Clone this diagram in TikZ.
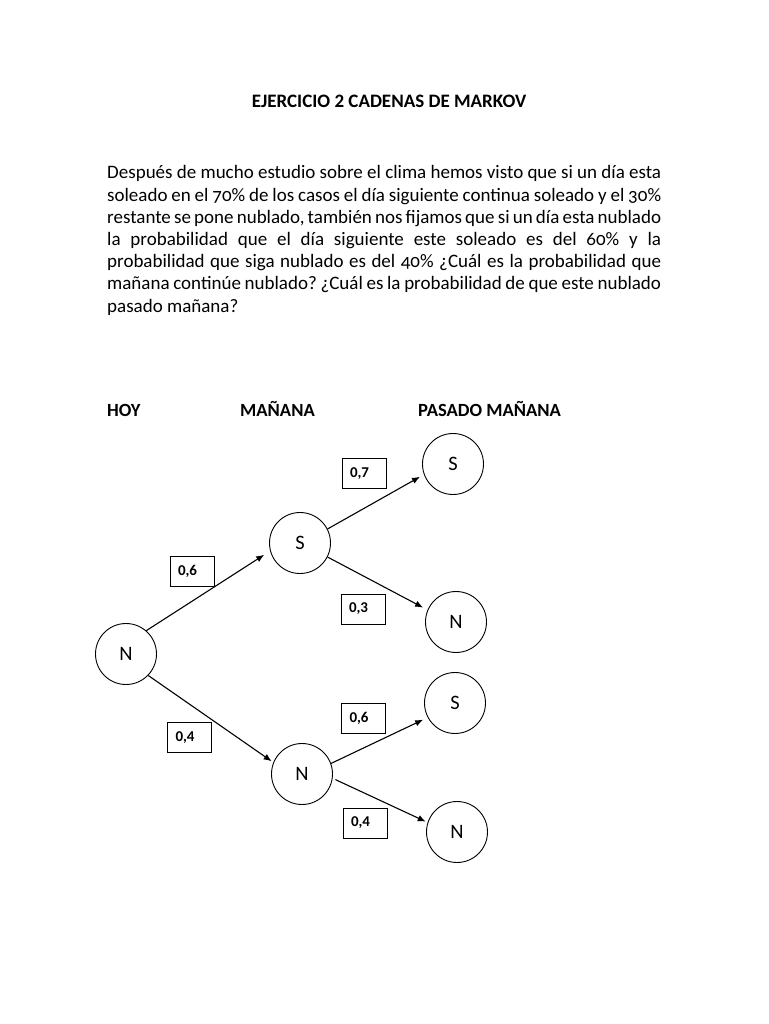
\documentclass[tikz,border=0pt]{standalone}
\usepackage{fontspec}
\setmainfont{Carlito}
\newfontfamily\parafont{Carlito}[Numbers=OldStyle]
\usetikzlibrary{arrows.meta}
\begin{document}
\begin{tikzpicture}[x=1pt,y=-1pt,
  state/.style={circle,draw,line width=0.9pt,minimum size=61pt,inner sep=0pt,font=\fontsize{20.5}{24}\selectfont},
  arr/.style={line width=1.1pt,-{Latex[length=8pt,width=6.5pt]}},
  prob/.style={draw,line width=0.9pt,minimum width=44pt,minimum height=30pt,inner xsep=8pt,inner ysep=0pt,text width=28pt,align=left,font=\fontsize{15}{17}\selectfont\bfseries},
  head/.style={anchor=base west,inner sep=0pt,font=\fontsize{18.6}{22}\selectfont\bfseries}]
\useasboundingbox[fill=white] (0,0) rectangle (768,1024);
% title
\node[anchor=base,inner sep=0pt,font=\fontsize{19}{22}\selectfont\bfseries] (title) at (389,108) {EJERCICIO 2 CADENAS DE MARKOV};
% paragraph
\node[anchor=base west,inner sep=0pt,text width=554pt,align=justify,font=\parafont\fontsize{19}{22.2}\selectfont] (para) at (107,179)
{\frenchspacing\hbadness=10000\hfuzz=20pt Después de mucho estudio sobre el clima hemos visto que si un día esta\linebreak
soleado en el 70\% de los casos el día siguiente continua soleado y el 30\%\linebreak
restante se pone nublado, también nos fijamos que si un día esta nublado\linebreak
la probabilidad que el día siguiente este soleado es del 60\% y la\linebreak
probabilidad que siga nublado es del 40\% ¿Cuál es la probabilidad que\linebreak
mañana continúe nublado? ¿Cuál es la probabilidad de que este nublado\linebreak
pasado mañana?};
% column heads
\node[head] (hoy) at (107,416) {HOY};
\node[head] (man) at (240,416) {MAÑANA};
\node[head] (pas) at (418,416) {PASADO MAÑANA};
% states
\node[state] (R) at (126,654) {N};
\node[state] (S1) at (300,543) {S};
\node[state] (St) at (453,464) {S};
\node[state] (Nu) at (456,622) {N};
\node[state] (Nl) at (302,774) {N};
\node[state] (Sl) at (455,703) {S};
\node[state] (Nb) at (457,832) {N};
% arrows
\draw[arr,shorten >=7pt] (R.49) -- (S1.195);
\draw[arr,shorten >=4.5pt] (S1.27) -- (St.200);
\draw[arr,shorten >=5pt] (S1.-27) -- (Nu.157);
\draw[arr,shorten >=2pt] (R.-44) -- (Nl.158);
\draw[arr,shorten >=5pt] (Nl.20) -- (Sl.208);
\draw[arr,shorten <=3pt,shorten >=2pt] (Nl.-8) -- (Nb.162);
% probability boxes
\node[prob] (p07) at (364,473.5) {0,7};
\node[prob] (p06a) at (192,571) {0,6};
\node[prob] (p03) at (363,609) {0,3};
\node[prob] (p04a) at (189.5,737.5) {0,4};
\node[prob] (p06b) at (363.5,718) {0,6};
\node[prob] (p04b) at (365,823) {0,4};
\end{tikzpicture}
\end{document}
